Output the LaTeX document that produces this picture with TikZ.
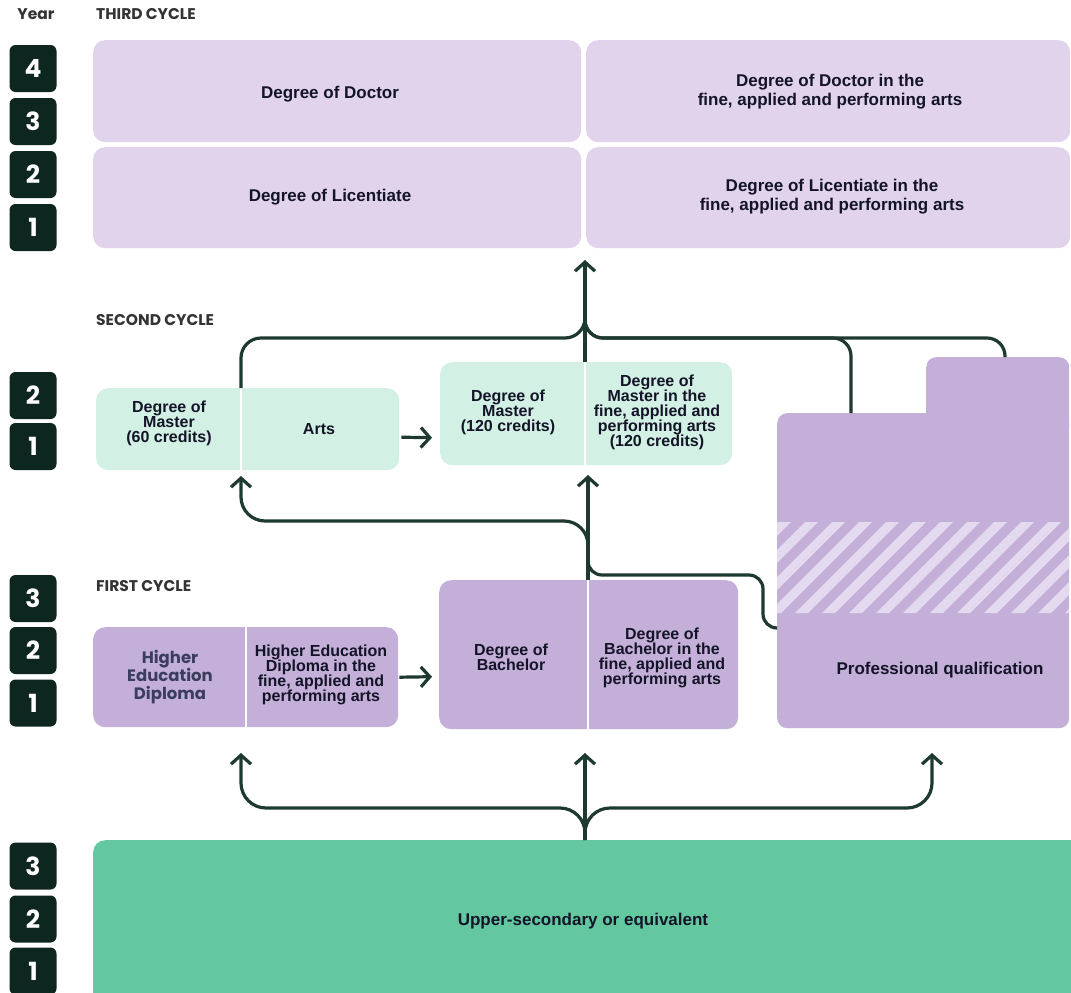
\documentclass[tikz,border=0pt]{standalone}
\usepackage{fontspec}
\setmainfont{Liberation Sans}
\newfontfamily\headfont{Poppins}
\usetikzlibrary{arrows.meta}

\definecolor{topbox}{HTML}{E1D3EC}
\definecolor{greenbox}{HTML}{D2F0E3}
\definecolor{purplebox}{HTML}{C3AFD7}
\definecolor{stripecol}{HTML}{E4DAF0}
\definecolor{upseccol}{HTML}{63C7A0}
\definecolor{linecol}{HTML}{1E3A30}
\definecolor{yeardark}{HTML}{0E2620}
\definecolor{ink}{HTML}{141428}
\definecolor{headink}{HTML}{333333}
\definecolor{hedink}{HTML}{3B3D5C}

\tikzset{
  yearbox/.style={fill=yeardark, rounded corners=6pt, minimum width=47pt,
    minimum height=47pt, inner sep=0pt, text=white,
    font=\headfont\bfseries\fontsize{25}{25}\selectfont},
  cyclehead/.style={anchor=west, inner sep=0pt, text=headink,
    font=\headfont\bfseries\fontsize{15.5}{18}\selectfont},
  box/.style={rounded corners=12pt, anchor=north west, inner sep=0pt},
  bigtxt/.style={align=center, text=ink, inner sep=0pt,
    font=\bfseries\fontsize{17}{19}\selectfont},
  smalltxt/.style={align=center, text=ink, inner sep=0pt,
    font=\bfseries\fontsize{16}{15}\selectfont},
  hedtxt/.style={align=center, text=hedink, inner sep=0pt,
    font=\headfont\bfseries\fontsize{16.5}{18}\selectfont},
  conn/.style={draw=linecol, line width=3.2pt},
  arr/.style={-{Straight Barb[length=9pt,width=20pt]}},
  splitline/.style={draw=white, line width=2.5pt},
}

\begin{document}
\begin{tikzpicture}[x=1pt,y=-1pt]
\useasboundingbox (0,0) rectangle (1071,993);
\fill[white] (0,0) rectangle (1071,993);

% ---------- headings ----------
\node[cyclehead, anchor=center] (yearhead) at (36,14) {Year};
\node[cyclehead] (third) at (96,14) {THIRD CYCLE};
\node[cyclehead] (second) at (96,320) {SECOND CYCLE};
\node[cyclehead] (first) at (96,586) {FIRST CYCLE};

% ---------- year counters ----------
\foreach \n/\yy [count=\i] in {4/68.5,3/121.5,2/174.5,1/227.5}
  \node[yearbox] (yt\i) at (33,\yy) {\n};
\foreach \n/\yy [count=\i] in {2/395.5,1/446.5}
  \node[yearbox] (ys\i) at (33,\yy) {\n};
\foreach \n/\yy [count=\i] in {3/598.5,2/650.5,1/703}
  \node[yearbox] (yf\i) at (33,\yy) {\n};
\foreach \n/\yy [count=\i] in {3/866,2/919,1/971}
  \node[yearbox] (yu\i) at (33,\yy) {\n};

% ---------- third cycle ----------
\node[box, fill=topbox, minimum width=488pt, minimum height=102pt] (doc) at (93,40) {};
\node[box, fill=topbox, minimum width=488pt, minimum height=101pt] (lic) at (93,147) {};
\node[box, fill=topbox, minimum width=484pt, minimum height=102pt] (docart) at (586,40) {};
\node[box, fill=topbox, minimum width=484pt, minimum height=101pt] (licart) at (586,147) {};
\node[bigtxt] (doct) at (330,94) {Degree of Doctor};
\node[bigtxt] (lict) at (330,197) {Degree of Licentiate};
\node[bigtxt] (docartt) at (830,92) {Degree of Doctor in the\\fine, applied and performing arts};
\node[bigtxt] (licartt) at (832,197) {Degree of Licentiate in the\\fine, applied and performing arts};

% ---------- second cycle ----------
\node[box, fill=greenbox, minimum width=303pt, minimum height=82pt] (m60) at (96,388) {};
\draw[splitline] (241,388) -- (241,470);
\node[smalltxt] (m60t) at (169,423) {Degree of\\Master\\(60 credits)};
\node[smalltxt] (artst) at (319,429) {Arts};

\node[box, fill=greenbox, minimum width=292pt, minimum height=103pt] (m120) at (440,362) {};
\draw[splitline] (585,362) -- (585,465);
\node[smalltxt] (m120t) at (508,412) {Degree of\\Master\\(120 credits)};
\node[smalltxt] (m120at) at (657,412) {Degree of\\Master in the\\fine, applied and\\performing arts\\(120 credits)};

% ---------- first cycle ----------
\node[box, fill=purplebox, minimum width=305pt, minimum height=100pt] (hed) at (93,627) {};
\draw[splitline] (246,627) -- (246,727);
\node[hedtxt] (hedt) at (170,677) {Higher\\Education\\Diploma};
\node[smalltxt] (hedat) at (321,675) {Higher Education\\Diploma in the\\fine, applied and\\performing arts};

\node[box, fill=purplebox, minimum width=299pt, minimum height=149pt] (bach) at (439,580) {};
\draw[splitline] (588,580) -- (588,729);
\node[smalltxt] (bacht) at (511,657) {Degree of\\Bachelor};
\node[smalltxt] (bachat) at (662,658) {Degree of\\Bachelor in the\\fine, applied and\\performing arts};

% ---------- professional qualification ----------
\node[box, rounded corners=10pt, fill=purplebox, minimum width=292pt, minimum height=315pt] (prof) at (777,413) {};
\node[box, rounded corners=10pt, fill=purplebox, minimum width=143pt, minimum height=80pt] (proftab) at (926,357) {};
\begin{scope}
  \clip (777,522) rectangle (1069,613);
  \foreach \k in {0,...,16}
    \fill[stripecol] ({660+\k*27},613) -- ++(13,0) -- ++(91,-91) -- ++(-13,0) -- cycle;
\end{scope}
\node[bigtxt] (proft) at (940,670) {Professional qualification};

% ---------- upper secondary ----------
\node[box, fill=upseccol, minimum width=1000pt, minimum height=175pt] (upsec) at (93,840) {};
\node[bigtxt] (upsect) at (583,921) {Upper-secondary or equivalent};

% ---------- connectors ----------
\coordinate (hub) at (585,338);
\coordinate (thirdin) at (585,260);
% into third cycle
\draw[conn, arr] (m120.north -| hub) -- (thirdin);
\draw[conn, rounded corners=20pt] (241,388) -- (241,338) -- (hub) -- (585,318);
\draw[conn, rounded corners=18pt] (prof.north -| 851,0) -- (851,338) -- (hub) -- (585,318);
\draw[conn, rounded corners=18pt] (proftab.north -| 1005,0) -- (1005,338) -- (hub) -- (585,318);

% second cycle link
\draw[conn, arr] ([shift={(2,8)}]m60.east) -- ([shift={(-8,24)}]m120.west);

% into second cycle
\coordinate (bachtop) at (588,580);
\draw[conn, arr] (bachtop) -- (588,475);
\draw[conn, arr, rounded corners=24pt] (588,565) -- (588,521) -- (241,521) -- (241,476);
\draw[conn, rounded corners=14pt] (prof.west |- 0,628) -- (763,628) -- (763,575) -- (588,575) -- (588,550);

% first cycle link
\draw[conn, arr] ([shift={(1,0)}]hed.east) -- ([shift={(-7,22)}]bach.west);

% into first cycle
\coordinate (usup) at (585,840);
\draw[conn, arr] (usup) -- (585,753);
\draw[conn, arr, rounded corners=25pt] (usup) -- (585,808) -- (241,808) -- (241,753);
\draw[conn, arr, rounded corners=25pt] (usup) -- (585,808) -- (932,808) -- (932,753);
\end{tikzpicture}
\end{document}
